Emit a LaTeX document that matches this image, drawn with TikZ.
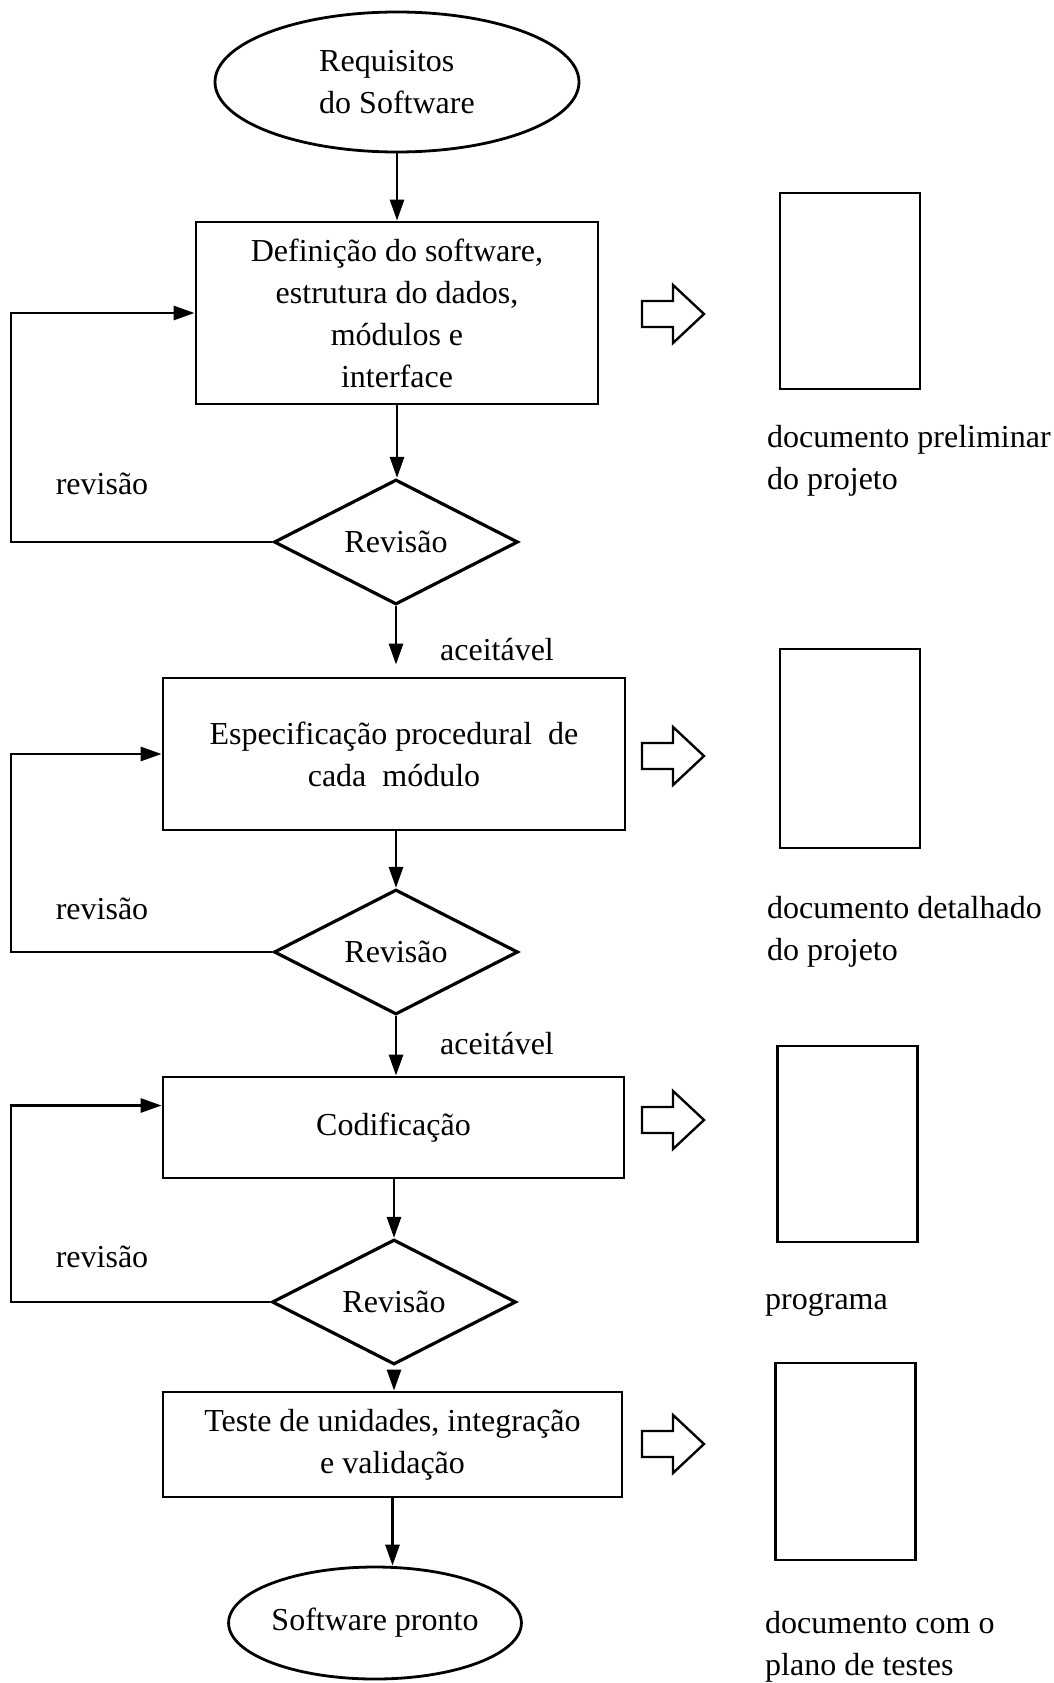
\documentclass[tikz,border=0pt]{standalone}
\usepackage{fontspec}
\setmainfont{Liberation Serif}
\usetikzlibrary{shapes.geometric,arrows.meta}
\begin{document}
\begin{tikzpicture}[x=1pt,y=-1pt,
  every node/.style={font=\fontsize{32}{42}\selectfont, inner sep=0pt},
  stroke/.style={line width=2.8pt},
  flow/.style={stroke, -{Triangle[length=21pt,width=14pt]}},
  stage/.style={draw, stroke, rectangle, align=center},
  terminal/.style={draw, stroke, ellipse},
  check/.style={draw, line width=3.2pt, diamond, minimum width=244pt, minimum height=118pt},
  doc/.style={draw, stroke, rectangle, minimum width=140pt},
  note/.style={anchor=west, align=left},
  hollowarrow/.pic={\draw[line width=2.4pt, line join=miter]
    (-31,-13) -- (0,-13) -- (0,-29) -- (31,0) -- (0,29) -- (0,13) -- (-31,13) -- cycle;}
]
\useasboundingbox (0,0) rectangle (1054,1683);

% main flow
\node[terminal, minimum width=364pt, minimum height=140pt, align=left] (req) at (397,82)
  {Requisitos\\do Software};
\node[stage, minimum width=402pt, minimum height=182pt] (def) at (397,313)
  {Definição do software,\\estrutura do dados,\\módulos e\\interface};
\node[check] (rev1) at (396,542) {Revisão\hspace{24pt}};
\node[stage, minimum width=462pt, minimum height=152pt] (spec) at (394,754)
  {\raisebox{-8pt}{\parbox{440pt}{\centering Especificação procedural\ \ de\\cada\ \ módulo}}};
\node[check] (rev2) at (396,952) {Revisão};
\node[stage, minimum width=461pt, minimum height=101pt] (cod) at (393.5,1127.5) {Codificação};
\node[check] (rev3) at (394,1302) {Revisão};
\node[stage, minimum width=459pt, minimum height=105pt] (test) at (392.5,1444.5)
  {Teste de unidades, integração\\e validação};
\node[terminal, minimum width=274pt, minimum height=112pt] (done) at (375,1623) {Software pronto};

\draw[flow] (req.south) -- (req.south |- def.north);
\draw[flow] (def.south) -- (def.south |- rev1.north);
\draw[flow, shorten >=12pt] (rev1.south) -- (rev1.south |- spec.north);
\draw[flow] (spec.south -| rev2.north) -- (rev2.north);
\draw[flow] (rev2.south) -- (rev2.south |- cod.north);
\draw[flow] (cod.south -| rev3.north) -- (rev3.north);
\draw[flow, shorten <=5pt] (rev3.south) -- (rev3.south |- test.north);
\draw[flow] (test.south) -- (test.south |- done.north);

\node at (497,650) (ok1) {aceitável};
\node at (497,1044) (ok2) {aceitável};

% review loops
\coordinate (loopx) at (11,0);
\draw[flow] (rev1.west) -- (rev1.west -| loopx) |- (def.west);
\draw[flow] (rev2.west) -- (rev2.west -| loopx) |- (spec.west);
\draw[flow] (rev3.west) -- (rev3.west -| loopx) |- ([yshift=22pt]cod.west);
\node at (102,484) (lb1) {revisão};
\node at (102,909) (lb2) {revisão};
\node at (102,1257) (lb3) {revisão};

% produced documents
\pic at (673,314) {hollowarrow};
\pic at (673,756) {hollowarrow};
\pic at (673,1120) {hollowarrow};
\pic at (673,1444) {hollowarrow};

\node[doc, minimum height=196pt] (d1) at (850,291) {};
\node[doc, minimum height=199pt] (d2) at (850,748.5) {};
\node[doc, minimum height=196pt] (d3) at (847.5,1144) {};
\node[doc, minimum height=197pt] (d4) at (845.5,1461.5) {};

\node[note] (t1) at (767,461) {documento preliminar\\do projeto};
\node[note] (t2) at (767,931.5) {documento detalhado\\do projeto};
\node[note] (t3) at (765,1305) {programa};
\node[note] (t4) at (765,1646.5) {documento com o\\plano de testes};
\end{tikzpicture}
\end{document}
